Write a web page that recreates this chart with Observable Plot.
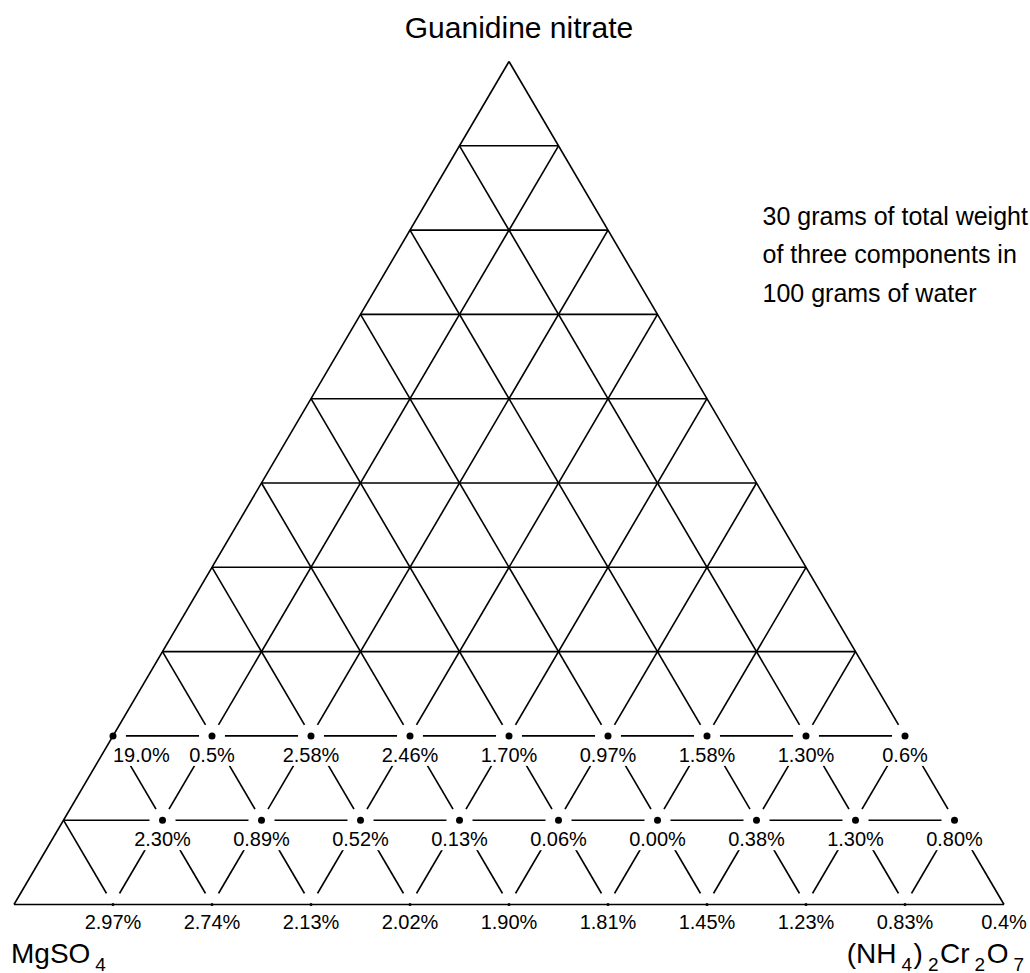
<!DOCTYPE html>
<html>
<head>
<meta charset="utf-8">
<script src="https://cdn.jsdelivr.net/npm/d3@7"></script>
<script src="https://cdn.jsdelivr.net/npm/@observablehq/plot@0.6"></script>
<style>
  html, body { margin: 0; padding: 0; background: #ffffff; }
</style>
</head>
<body>
<div id="chart"></div>
<script>
// ---------------- data ----------------
const titleTop = "Guanidine nitrate";
const labelLeft = "MgSO4";
const labelRight = "(NH4)2Cr2O7";
const noteLines = ["30 grams of total weight", "of three components in", "100 grams of water"];

// grid divisions of the ternary diagram (percent)
const gridLevels = [10, 20, 30, 40, 50, 60, 70, 80, 90];

// guanidine nitrate level of each labelled row (percent)
const guanidineRows = [20, 10, 0];

// (NH4)2Cr2O7 share of each labelled point, per row (percent)
const dichromateRow20 = [0, 10, 20, 30, 40, 50, 60, 70, 80];
const dichromateRow10 = [10, 20, 30, 40, 50, 60, 70, 80, 90];
const dichromateRow0 = [10, 20, 30, 40, 50, 60, 70, 80, 90, 100];

// measured values written next to each point
const valuesRow20 = ["19.0%", "0.5%", "2.58%", "2.46%", "1.70%", "0.97%", "1.58%", "1.30%", "0.6%"];
const valuesRow10 = ["2.30%", "0.89%", "0.52%", "0.13%", "0.06%", "0.00%", "0.38%", "1.30%", "0.80%"];
const valuesRow0 = ["2.97%", "2.74%", "2.13%", "2.02%", "1.90%", "1.81%", "1.45%", "1.23%", "0.83%", "0.4%"];

// ---------------- derived tables ----------------
const dichromateByRow = [dichromateRow20, dichromateRow10, dichromateRow0];
const valuesByRow = [valuesRow20, valuesRow10, valuesRow0];
const points = guanidineRows.flatMap((g, r) =>
  dichromateByRow[r].map((c, i) => ({guanidine: g, dichromate: c, label: valuesByRow[r][i]}))
);
const labelSet = new Set(points.map((p) => p.label));
// ternary -> cartesian (x along base, y height)
const tx = (p) => p.dichromate + p.guanidine / 2;
const ty = (p) => p.guanidine;

const isVertex = (p) => p.dichromate === 100;
const upperPts = points.filter((p) => p.guanidine > 0);
const basePts = points.filter((p) => p.guanidine === 0);

// grid segments
const interior = gridLevels.flatMap((L) => [
  {x1: L / 2, y1: L, x2: 100 - L / 2, y2: L},                 // guanidine constant
  {x1: L, y1: 0, x2: L + (100 - L) / 2, y2: 100 - L},          // dichromate constant
  {x1: 100 - L, y1: 0, x2: (100 - L) / 2, y2: 100 - L}         // MgSO4 constant
]);
const rightEdge = [{x1: 100, y1: 0, x2: 50, y2: 100}];
const leftBottomEdges = [
  {x1: 0, y1: 0, x2: 50, y2: 100},
  {x1: 0, y1: 0, x2: 100, y2: 0}
];

const ink = "#000000";
const lineW = 1.6;

const chart = Plot.plot({
  width: 1030,
  height: 973,
  marginLeft: 13.5,
  marginRight: 26.5,
  marginTop: 61,
  marginBottom: 69,
  x: {domain: [0, 100], axis: null},
  y: {domain: [0, 100], axis: null},
  style: {fontFamily: "'Liberation Sans', Arial, Helvetica, sans-serif", background: "#ffffff", color: ink},
  marks: [
    Plot.link(interior.concat(rightEdge), {x1: "x1", y1: "y1", x2: "x2", y2: "y2", stroke: ink, strokeWidth: lineW}),
    // white halos around the nodes
    Plot.dot(points.filter((p) => !isVertex(p)), {x: tx, y: ty, r: 13, fill: "#ffffff", stroke: null}),
    // value labels (boxed)
    Plot.text(upperPts.filter((p) => p.dichromate === 0), {
      x: tx, y: ty, text: "label", textAnchor: "start", lineAnchor: "bottom", dy: 26,
      fontSize: 20, fill: ink
    }),
    Plot.text(upperPts.filter((p) => p.dichromate !== 0), {
      x: tx, y: ty, text: "label", textAnchor: "middle", lineAnchor: "bottom", dy: 26,
      fontSize: 20, fill: ink
    }),
    Plot.text(basePts, {
      x: tx, y: ty, text: "label", textAnchor: "middle", lineAnchor: "bottom", dy: 24.5,
      fontSize: 20, fill: ink
    }),
    Plot.link(leftBottomEdges, {x1: "x1", y1: "y1", x2: "x2", y2: "y2", stroke: ink, strokeWidth: lineW}),
    // points
    Plot.dot(upperPts, {x: tx, y: ty, r: 3.5, fill: ink, stroke: null}),
    Plot.dot(basePts.filter((p) => !isVertex(p)), {x: tx, y: ty, r: 1.5, fill: ink, stroke: null}),
    // vertex labels
    Plot.text([titleTop], {x: () => 50, y: () => 100, text: (d) => d, textAnchor: "middle", lineAnchor: "bottom", dx: 10, dy: -24, fontSize: 30, fill: ink}),
    Plot.text([labelLeft], {x: () => 0, y: () => 0, text: (d) => d, textAnchor: "start", lineAnchor: "bottom", dx: -3, dy: 58, fontSize: 28, fill: ink}),
    Plot.text([labelRight], {x: () => 100, y: () => 0, text: (d) => d, textAnchor: "end", lineAnchor: "bottom", dx: 20, dy: 58, fontSize: 28, fill: ink}),
    // annotation
    Plot.text([noteLines.join("\n")], {frameAnchor: "top-right", text: (d) => d, textAnchor: "start", lineAnchor: "bottom", lineHeight: 1.53, dx: -241.5, dy: 240, fontSize: 25, fill: ink})
  ]
});

// chemical formulas: turn digits into subscripts
function subscriptify(textEl, str) {
  const tokens = str.match(/\d+|[^\d]+/g);
  while (textEl.firstChild) textEl.removeChild(textEl.firstChild);
  let prevSub = false;
  tokens.forEach((tok) => {
    const isSub = /^\d+$/.test(tok);
    const ts = document.createElementNS("http://www.w3.org/2000/svg", "tspan");
    ts.textContent = tok;
    if (isSub) {
      ts.setAttribute("font-size", "19");
      ts.setAttribute("dy", "8");
      ts.setAttribute("dx", "5");
    } else if (prevSub) {
      ts.setAttribute("dy", "-8");
      ts.setAttribute("dx", "1.5");
    }
    prevSub = isSub;
    textEl.appendChild(ts);
  });
}
chart.querySelectorAll("text").forEach((t) => {
  const s = t.textContent;
  if (s === labelLeft || s === labelRight) subscriptify(t, s);
});

document.getElementById("chart").appendChild(chart);

// white boxes behind the value labels (hide grid lines under them)
chart.querySelectorAll("text").forEach((t) => {
  if (!labelSet.has(t.textContent)) return;
  const b = t.getBBox();
  const r = document.createElementNS("http://www.w3.org/2000/svg", "rect");
  r.setAttribute("x", b.x - 1.5);
  r.setAttribute("y", b.y);
  r.setAttribute("width", b.width + 3);
  r.setAttribute("height", b.height);
  r.setAttribute("fill", "#ffffff");
  r.setAttribute("stroke", "none");
  const tr = t.getAttribute("transform");
  if (tr) r.setAttribute("transform", tr);
  t.parentNode.insertBefore(r, t);
});
</script>
</body>
</html>
